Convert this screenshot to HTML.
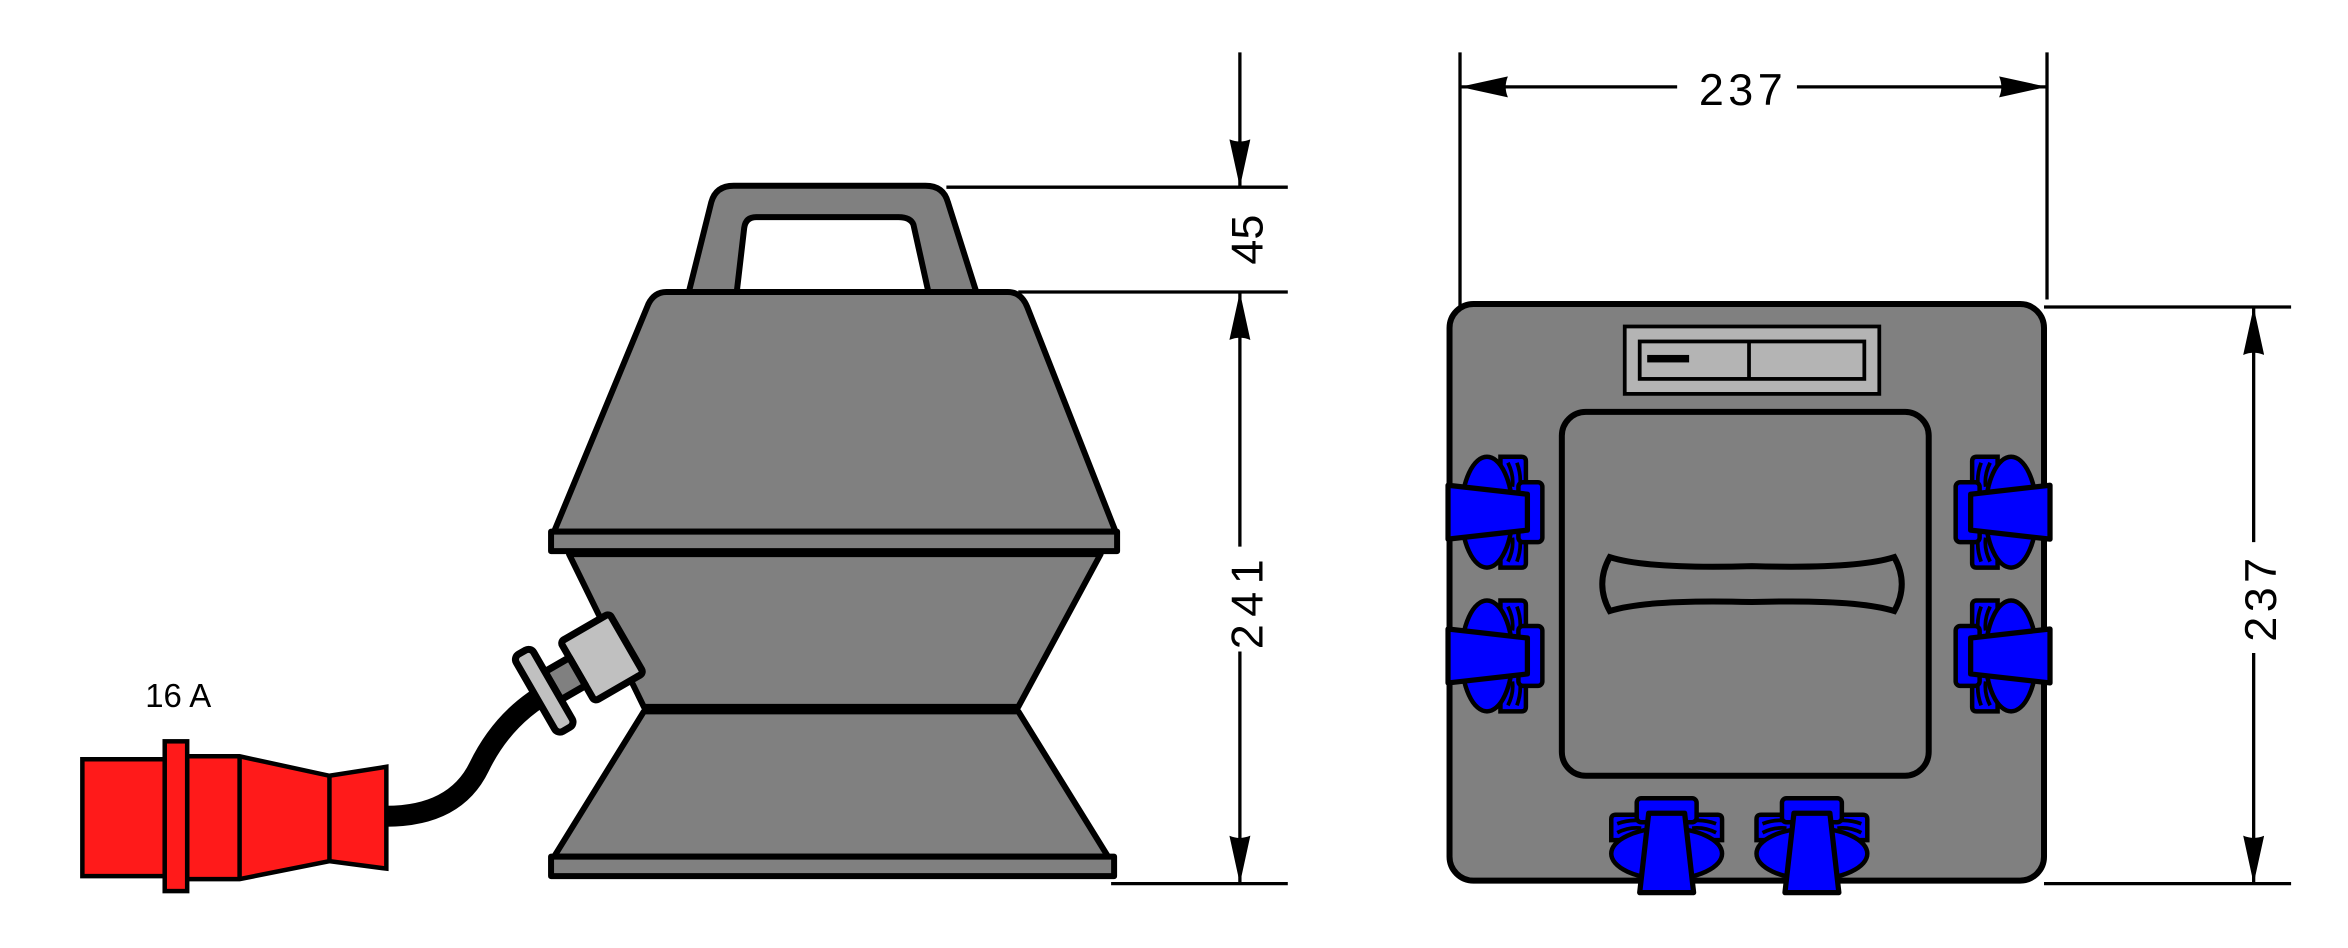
<!DOCTYPE html>
<html><head><meta charset="utf-8"><style>
html,body{margin:0;padding:0;background:#fff;}
svg{display:block;}
text{font-family:"Liberation Sans",sans-serif;fill:#000;}
</style></head><body>
<svg width="2348" height="948" viewBox="0 0 1568 633" preserveAspectRatio="none" xmlns="http://www.w3.org/2000/svg">
<defs>
<marker id="a" viewBox="0 0 32 14" refX="32" refY="7" markerWidth="32" markerHeight="14" markerUnits="userSpaceOnUse" orient="auto-start-reverse">
<path d="M0,0 L32,7 L0,14 Q3,7 0,0 Z" fill="#000"/></marker>
<g id="sock">
<path d="M4,-37 L18,-37 Q21,-37 21,-34 L21,34 Q21,37 18,37 L4,37 Z" fill="#0000ff" stroke="#000" stroke-width="3"/>
<ellipse cx="-5" cy="0" rx="17" ry="37" fill="#0000ff" stroke="#000" stroke-width="3"/>
<path d="M9,-33 Q13,-25 12,-17 M15,-33 Q18,-25 17,-17 M9,33 Q13,25 12,17 M15,33 Q18,25 17,17" fill="none" stroke="#000" stroke-width="2.5"/>
<rect x="16" y="-20" width="16" height="40" rx="3" fill="#0000ff" stroke="#000" stroke-width="3"/>
<path d="M-31,-18 L22,-12 L22,12 L-31,18 Z" fill="#0000ff" stroke="#000" stroke-width="3.5" stroke-linejoin="round"/>
</g>
</defs>
<g stroke="#000" stroke-width="4" stroke-linejoin="round" fill="#808080">
<path d="M460,195 L475,135 Q478,124 490,124 L618,124 Q630,124 633,135 L652,195 L620,195 L610,150 Q608,145 600,145 L505,145 Q498,145 497,152 L492,195 Z"/>
<path d="M445,195 L673,195 Q682,195 686,205 L745,355 L370,355 L433,203 Q437,195 445,195 Z"/>
<rect x="368" y="355" width="378" height="13"/>
<path d="M380,370 L735,370 L680,472 L430,472 Z"/>
<path d="M430,475 L680,475 L740,572 L370,572 Z"/>
<rect x="368" y="572" width="376" height="13"/>
</g>
<path d="M370,460 Q337,477 320,512 Q304,545 258,545" fill="none" stroke="#000" stroke-width="14"/>
<g transform="translate(395,443) rotate(-30) scale(1.35)" stroke="#000" stroke-width="3.5" stroke-linejoin="round">
<rect x="-8" y="-17" width="28" height="34" rx="2" fill="#c0c0c0"/>
<rect x="-22" y="-8" width="14" height="16" fill="#808080"/>
<rect x="-32" y="-22" width="10" height="44" rx="3" fill="#c0c0c0"/>
</g>
<g stroke="#000" stroke-width="3" fill="#ff1a1a">
<path d="M55,507 L110,507 L110,585 L55,585 Z"/>
<path d="M125,505 L160,505 L220,518 L258,512 L258,580 L220,575 L160,587 L125,587 Z"/>
<line x1="160" y1="505" x2="160" y2="587"/>
<line x1="220" y1="518" x2="220" y2="575"/>
<rect x="110" y="495" width="15" height="100"/>
</g>
<text x="97" y="472" font-size="22">16 A</text>
<g stroke="#000" stroke-width="2.2" fill="none">
<line x1="632" y1="125" x2="860" y2="125"/>
<line x1="680" y1="195" x2="860" y2="195"/>
<line x1="742" y1="590" x2="860" y2="590"/>
<line x1="828" y1="35" x2="828" y2="125" marker-end="url(#a)"/>
<line x1="828" y1="365" x2="828" y2="195" marker-end="url(#a)"/>
<line x1="828" y1="435" x2="828" y2="590" marker-end="url(#a)"/>
<line x1="975" y1="35" x2="975" y2="212"/>
<line x1="1367" y1="35" x2="1367" y2="200"/>
<line x1="1120" y1="58" x2="975" y2="58" marker-end="url(#a)"/>
<line x1="1200" y1="58" x2="1367" y2="58" marker-end="url(#a)"/>
<line x1="1365" y1="205" x2="1530" y2="205"/>
<line x1="1365" y1="590" x2="1530" y2="590"/>
<line x1="1505" y1="362" x2="1505" y2="205" marker-end="url(#a)"/>
<line x1="1505" y1="436" x2="1505" y2="590" marker-end="url(#a)"/>
</g>
<text font-size="30" transform="translate(843,160) rotate(-90)" text-anchor="middle">45</text>
<text font-size="30" transform="translate(843,401) rotate(-90)" text-anchor="middle" letter-spacing="5">241</text>
<text x="1164" y="70" font-size="30" text-anchor="middle" letter-spacing="3">237</text>
<text font-size="30" transform="translate(1520,399) rotate(-90)" text-anchor="middle" letter-spacing="3">237</text>
<g stroke="#000" stroke-width="4" fill="#808080">
<rect x="968" y="203" width="397" height="385" rx="16"/>
<rect x="1043" y="275" width="245" height="243" rx="16"/>
<path d="M1075,372 Q1100,380 1170,378 Q1240,380 1265,372 Q1275,390 1265,408 Q1240,400 1170,402 Q1100,400 1075,408 Q1065,390 1075,372 Z"/>
</g>
<g stroke="#000" stroke-width="2.5" fill="#b4b4b4">
<rect x="1085" y="218" width="170" height="45"/>
<rect x="1095" y="228" width="150" height="25"/>
<line x1="1168" y1="228" x2="1168" y2="253"/>
</g>
<rect x="1100" y="237" width="28" height="5" fill="#000"/>
<use href="#sock" transform="translate(998,342)"/>
<use href="#sock" transform="translate(998,438)"/>
<use href="#sock" transform="translate(1338,342) scale(-1,1)"/>
<use href="#sock" transform="translate(1338,438) scale(-1,1)"/>
<use href="#sock" transform="translate(1113,565) rotate(-90)"/>
<use href="#sock" transform="translate(1210,565) rotate(-90)"/>
</svg>
</body></html>
